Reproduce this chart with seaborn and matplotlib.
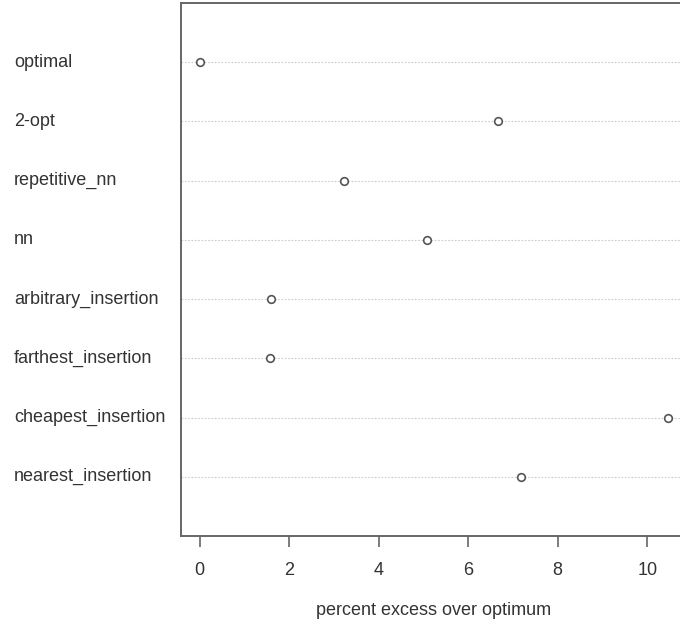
import numpy as np
import pandas as pd
import seaborn as sns
import matplotlib
matplotlib.use("Agg")
import matplotlib.pyplot as plt
from matplotlib.transforms import blended_transform_factory

methods = ["optimal", "2-opt", "repetitive_nn", "nn", "arbitrary_insertion",
           "farthest_insertion", "cheapest_insertion", "nearest_insertion"]
excess = [0.0, 6.67, 3.22, 5.08, 1.59, 1.57, 10.47, 7.18]
xticks = [0, 2, 4, 6, 8, 10]

df = pd.DataFrame({"method": methods, "excess": excess})

sns.set_style("white")
plt.rcParams["font.family"] = ["Liberation Sans", "DejaVu Sans"]

fig = plt.figure(figsize=(6.8, 6.27), dpi=100)
ax = fig.add_axes([181 / 680, (627 - 536) / 627, (687 - 181) / 680, 533 / 627])

sns.stripplot(data=df, x="excess", y="method", order=methods, jitter=False,
              marker="o", size=5.5, facecolor="white", edgecolor="#555555",
              linewidth=1.2, ax=ax, zorder=3)

# dotted row lines like R's dotchart
for i in range(len(methods)):
    ax.axhline(i, color="#cccccc", linestyle=(0, (1.5, 1.5)), linewidth=0.8, zorder=1)

lo, hi = min(excess), max(excess)
pad = (hi - lo) * 0.04
ax.set_xlim(lo - pad, hi + pad)
ax.set_ylim(len(methods), -1)

fs = 13
ax.set_yticks([])
ax.set_ylabel("")
tr = blended_transform_factory(fig.transFigure, ax.transData)
for i, m in enumerate(methods):
    ax.text(14 / 680, i, m, transform=tr, ha="left", va="center",
            fontsize=fs, color="#333333")

ax.set_xticks(xticks)
ax.set_xticklabels([str(t) for t in xticks], fontsize=fs, color="#333333")
ax.tick_params(axis="x", direction="out", length=8, width=1.2, color="#666666",
               pad=11, bottom=True)
ax.set_xlabel("percent excess over optimum", fontsize=fs, color="#333333", labelpad=16)

for s in ax.spines.values():
    s.set_color("#666666")
    s.set_linewidth(1.4)

fig.savefig("out.png", dpi=100)
